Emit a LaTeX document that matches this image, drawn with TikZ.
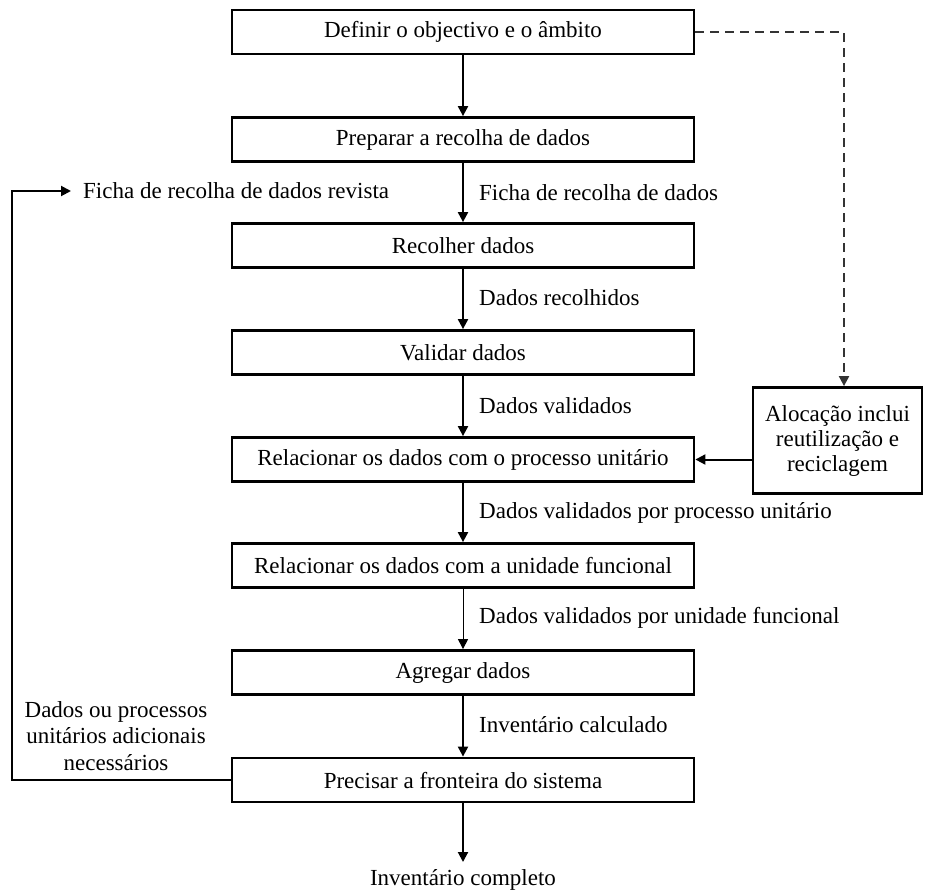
\documentclass[tikz,border=0pt]{standalone}
\usepackage{fontspec}
\setmainfont{Liberation Serif}
\usetikzlibrary{arrows.meta}
\begin{document}
\begin{tikzpicture}[x=1pt,y=-1pt,
  every node/.style={font=\fontsize{23}{26}\selectfont},
  stepbox/.style={draw,line width=2.8pt,minimum width=462pt,minimum height=44pt,inner sep=0pt,anchor=center},
  sidebox/.style={draw,line width=2.8pt,minimum width=169pt,minimum height=106pt,inner sep=0pt,align=center,font=\fontsize{23}{25}\selectfont},
  flow/.style={line width=2pt,-{Triangle[width=10pt,length=10pt]}},
  lbl/.style={anchor=west,inner sep=0pt}]
\useasboundingbox (0,0) rectangle (928,892);
\node[stepbox] (def) at (463,32) {Definir o objectivo e o âmbito};
\node[stepbox] (prep) at (463,139.5) {Preparar a recolha de dados};
\node[stepbox] (rec) at (463,245.5) {Recolher dados};
\node[stepbox] (val) at (463,352.5) {Validar dados};
\node[stepbox] (proc) at (463,459.5) {Relacionar os dados com o processo unitário};
\node[stepbox] (unid) at (463,565.5) {Relacionar os dados com a unidade funcional};
\node[stepbox] (agr) at (463,672.5) {Agregar dados};
\node[stepbox] (prec) at (463,780) {Precisar a fronteira do sistema};
\node[sidebox] (side) at (837.5,440.5) {Alocação inclui\\reutilização e\\reciclagem};
\node[inner sep=0pt] (fim) at (463,880) {Inventário completo};
\coordinate (fimtop) at (463,862);
\draw[flow] (def) -- (prep);
\draw[flow] (prep) -- (rec);
\draw[flow] (rec) -- (val);
\draw[flow] (val) -- (proc);
\draw[flow] (proc) -- (unid);
\draw[flow,line width=1pt] (unid) -- (agr);
\draw[flow] (agr) -- (prec);
\draw[flow] (prec) -- (fimtop);
\node[lbl] (l1) at (479,193) {Ficha de recolha de dados};
\node[lbl] (l2) at (479,298) {Dados recolhidos};
\node[lbl] (l3) at (479,406) {Dados validados};
\node[lbl] (l4) at (479,513) {Dados validados por processo unitário};
\node[lbl] (l5) at (479,618) {Dados validados por unidade funcional};
\node[lbl] (l6) at (479,725) {Inventário calculado};
% dashed link
\coordinate (dcorner) at (844,32);
\draw[line width=2pt,dash pattern=on 9pt off 6pt,draw=black!80,-{Triangle[width=10pt,length=10pt]}] (def.east) -- (dcorner) -- (dcorner |- side.north);
\draw[flow] (side.west |- proc.east) -- (proc.east);
% feedback loop
\node[lbl] (rev) at (83,191) {Ficha de recolha de dados revista};
\coordinate (fbA) at (12,780);
\coordinate (fbB) at (12,191);
\coordinate (fbC) at (71,191);
\draw[flow] (prec.west) -- (fbA) -- (fbB) -- (fbC);
\node[align=center,inner sep=0pt,font=\fontsize{23}{26.5}\selectfont] (extra) at (116,736) {Dados ou processos\\unitários adicionais\\necessários};
\end{tikzpicture}
\end{document}
